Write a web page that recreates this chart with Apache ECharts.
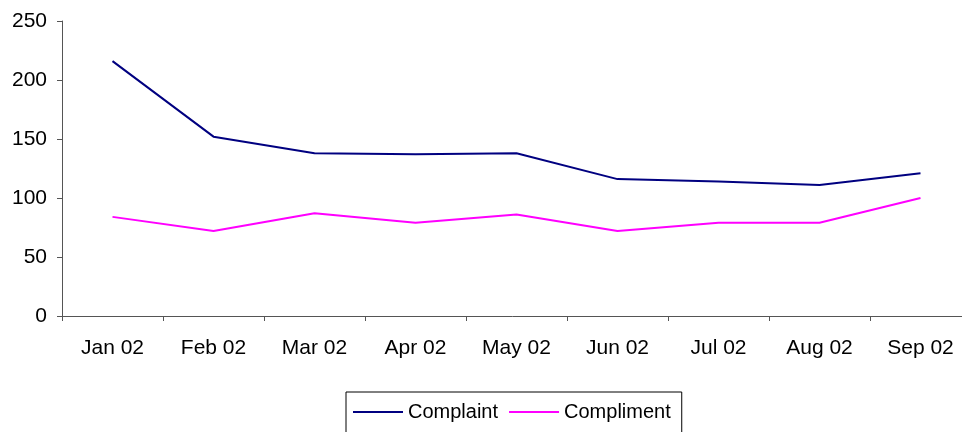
<!DOCTYPE html>
<html>
<head>
<meta charset="utf-8">
<script src="https://cdn.jsdelivr.net/npm/echarts@6/dist/echarts.min.js"></script>
<style>
  html, body { margin: 0; padding: 0; background: #fff; }
  #main { width: 962px; height: 432px; }
</style>
</head>
<body>
<div id="main"></div>
<script>
const months = ['Jan 02', 'Feb 02', 'Mar 02', 'Apr 02', 'May 02', 'Jun 02', 'Jul 02', 'Aug 02', 'Sep 02']
const complaint = [216, 152, 138, 137, 138, 116, 114, 111, 121]
const compliment = [84, 72, 87, 79, 86, 72, 79, 79, 100]

const chart = echarts.init(document.getElementById('main'))
const font = 'Liberation Sans, Arial, sans-serif'

const option = {
  animation: false,
  backgroundColor: '#fff',
  // plot area runs a little past the right edge, as in the original
  grid: { left: 62, top: 21, bottom: 116, width: 909, outerBoundsMode: 'none', containLabel: false },
  legend: {
    left: 346,
    top: 392,
    data: ['Complaint', 'Compliment'],
    icon: 'rect',
    itemWidth: 50,
    itemHeight: 2,
    itemGap: 11,
    padding: [10, 11, 24, 7],
    borderColor: '#000',
    borderWidth: 1,
    borderRadius: 0,
    textStyle: { fontFamily: font, fontSize: 20, color: '#000' }
  },
  xAxis: {
    type: 'category',
    data: months,
    boundaryGap: true,
    axisLine: { lineStyle: { color: '#555', width: 1 } },
    axisTick: { show: true, length: 5, inside: false, lineStyle: { color: '#555' } },
    axisLabel: { fontFamily: font, fontSize: 21, color: '#000', margin: 22 }
  },
  yAxis: {
    type: 'value',
    min: 0,
    max: 250,
    interval: 50,
    axisLine: { show: true, lineStyle: { color: '#555', width: 1 } },
    axisTick: { show: true, length: 5, lineStyle: { color: '#555' } },
    splitLine: { show: false },
    axisLabel: { fontFamily: font, fontSize: 21, color: '#000', margin: 15 }
  },
  series: [
    {
      name: 'Complaint',
      type: 'line',
      data: complaint,
      symbol: 'none',
      lineStyle: { color: '#000080', width: 2 },
      itemStyle: { color: '#000080' }
    },
    {
      name: 'Compliment',
      type: 'line',
      data: compliment,
      symbol: 'none',
      lineStyle: { color: '#ff00ff', width: 2 },
      itemStyle: { color: '#ff00ff' }
    }
  ]
}
chart.setOption(option)
</script>
</body>
</html>
